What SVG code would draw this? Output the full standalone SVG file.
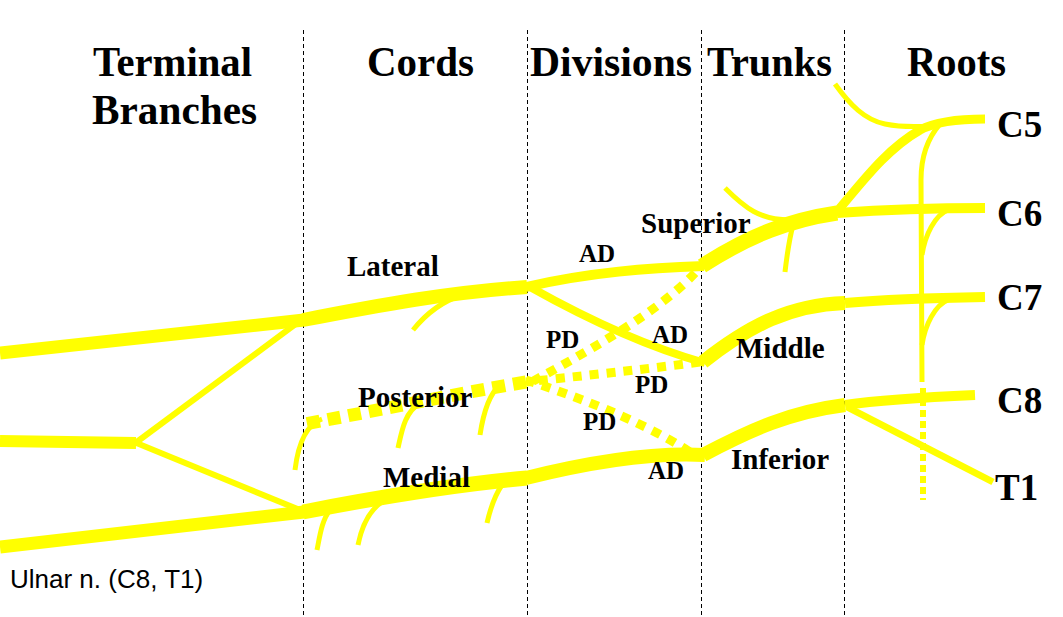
<svg xmlns="http://www.w3.org/2000/svg" width="1063" height="617" viewBox="0 0 1063 617">
<style>
.div{stroke:#000;stroke-width:1;stroke-dasharray:4,3;fill:none}
.n{stroke:#FFFF00;fill:none;stroke-linecap:butt;stroke-linejoin:round}
.h{font-family:"Liberation Serif","Times New Roman",serif;font-weight:bold;font-size:43px;fill:#000}
.r{font-family:"Liberation Serif","Times New Roman",serif;font-weight:bold;font-size:37px;fill:#000}
.l{font-family:"Liberation Serif","Times New Roman",serif;font-weight:bold;font-size:29px;fill:#000}
.s{font-family:"Liberation Serif","Times New Roman",serif;font-weight:bold;font-size:25px;fill:#000}
.u{font-family:"Liberation Sans",Arial,sans-serif;font-size:26px;fill:#000}
</style>
<rect width="1063" height="617" fill="#fff"/>
<g id="dividers">
<line class="div" x1="303.5" y1="30" x2="303.5" y2="617"/>
<line class="div" x1="527.5" y1="30" x2="527.5" y2="617"/>
<line class="div" x1="701.5" y1="30" x2="701.5" y2="617"/>
<line class="div" x1="844.5" y1="30" x2="844.5" y2="617"/>
</g>
<g id="connectors">
<!-- roots -->
<path class="n" stroke-width="9" d="M985,119 C955,119 935,122 920,130 C885,150 860,185 835,214"/>
<path class="n" stroke-width="5" d="M835,84 C850,105 865,120 885,124 C900,127 915,127 930,126"/>
<path class="n" stroke-width="5" d="M940,124 C926,140 921,160 921,180 L922,382"/>
<path class="n" stroke-width="6" stroke-dasharray="7,4" d="M923,388 L923,500"/>
<path class="n" stroke-width="5" d="M948,210 C935,215 925,235 922,255"/>
<path class="n" stroke-width="5" d="M948,300 C935,305 925,325 922,345"/>
<path class="n" stroke-width="10" d="M985,208 C930,208 880,210 837,213"/>
<path class="n" stroke-width="10" d="M985,297 C930,298 880,300 845,303"/>
<path class="n" stroke-width="10" d="M975,395 C930,397 880,400 845,405"/>
<path class="n" stroke-width="7" d="M847,407 L993,482"/>
<!-- trunks -->
<path class="n" stroke-width="15" d="M837,213 C790,220 750,235 702,266"/>
<path class="n" stroke-width="5" d="M725,188 C745,208 760,220 790,220"/>
<path class="n" stroke-width="5" d="M793,225 C789,240 787,255 785,272"/>
<path class="n" stroke-width="14" d="M845,303 C790,305 750,325 703,362"/>
<path class="n" stroke-width="14" d="M845,405 C790,412 750,430 703,455"/>
<!-- divisions -->
<path class="n" stroke-width="10" d="M704,266 C650,268 590,272 526,287"/>
<path class="n" stroke-width="9" stroke-dasharray="9,8" d="M695,273 C660,310 600,345 526,385"/>
<path class="n" stroke-width="8" d="M530,287 C580,315 640,345 705,363"/>
<path class="n" stroke-width="9" stroke-dasharray="9,8" d="M700,362 C640,370 580,376 526,382"/>
<path class="n" stroke-width="9" stroke-dasharray="9,8" d="M526,380 C580,398 640,420 690,452"/>
<path class="n" stroke-width="14" d="M705,455 C650,452 590,462 526,478"/>
<!-- cords -->
<path class="n" stroke-width="14" d="M527,287 C450,292 380,305 303,320"/>
<path class="n" stroke-width="13" stroke-dasharray="13,8" d="M526,382 C450,395 380,410 305,424"/>
<path class="n" stroke-width="15" d="M527,478 C450,485 380,497 303,512"/>
<path class="n" stroke-width="5" d="M462,295 C440,302 425,315 413,330"/>
<path class="n" stroke-width="5" d="M322,419 C305,425 298,445 295,470"/>
<path class="n" stroke-width="5" d="M420,403 C405,412 402,430 398,448"/>
<path class="n" stroke-width="5" d="M500,385 C488,395 483,415 480,435"/>
<path class="n" stroke-width="5" d="M330,510 C322,520 320,535 317,550"/>
<path class="n" stroke-width="5" d="M382,502 C370,510 362,525 358,545"/>
<path class="n" stroke-width="5" d="M502,485 C495,495 490,510 487,523"/>
<!-- terminal branches -->
<path class="n" stroke-width="13" d="M304,320 L0,353"/>
<path class="n" stroke-width="13" d="M304,512 L0,547"/>
<path class="n" stroke-width="12" d="M0,441 L136,443"/>
<path class="n" stroke-width="6" d="M134,444 L301,320"/>
<path class="n" stroke-width="6" d="M134,442 L300,510"/>
</g>
<g id="headers">
<text class="h" x="93" y="76" textLength="159" lengthAdjust="spacingAndGlyphs">Terminal</text>
<text class="h" x="92" y="124" textLength="165" lengthAdjust="spacingAndGlyphs">Branches</text>
<text class="h" x="367" y="76" textLength="107" lengthAdjust="spacingAndGlyphs">Cords</text>
<text class="h" x="530" y="76" textLength="162" lengthAdjust="spacingAndGlyphs">Divisions</text>
<text class="h" x="707" y="76" textLength="125" lengthAdjust="spacingAndGlyphs">Trunks</text>
<text class="h" x="907" y="76" textLength="99" lengthAdjust="spacingAndGlyphs">Roots</text>
</g>
<g id="roots">
<text class="r" x="997" y="137">C5</text>
<text class="r" x="997" y="226">C6</text>
<text class="r" x="997" y="310">C7</text>
<text class="r" x="997" y="413">C8</text>
<text class="r" x="995" y="500">T1</text>
</g>
<g id="trunks">
<text class="l" x="641" y="233">Superior</text>
<text class="l" x="736" y="358">Middle</text>
<text class="l" x="731" y="469">Inferior</text>
</g>
<g id="cords">
<text class="l" x="347" y="276">Lateral</text>
<text class="l" x="358" y="407">Posterior</text>
<text class="l" x="383" y="487">Medial</text>
</g>
<g id="divisions">
<text class="s" x="579" y="262">AD</text>
<text class="s" x="546" y="348">PD</text>
<text class="s" x="652" y="343">AD</text>
<text class="s" x="635" y="393">PD</text>
<text class="s" x="583" y="430">PD</text>
<text class="s" x="648" y="479">AD</text>
</g>
<g id="terminal">
<text class="u" x="10" y="588">Ulnar n. (C8, T1)</text>
</g>
</svg>
